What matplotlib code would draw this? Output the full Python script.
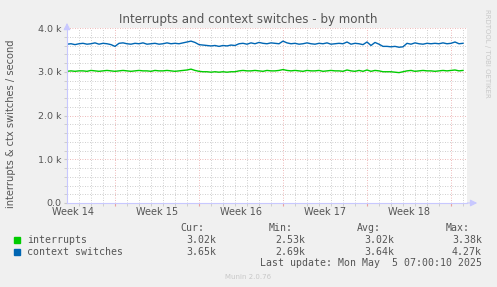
import numpy as np
import matplotlib
matplotlib.use("Agg")
import matplotlib.pyplot as plt
from matplotlib.ticker import MultipleLocator, FixedLocator, FuncFormatter

# samples every 8 hours, in k/s
hours = np.arange(100) * 8
interrupts = [3.01, 3.02, 3.01, 3.02, 3.02, 3.01, 3.03, 3.02, 3.01, 3.02, 3.03, 3.02, 3.01,
              3.02, 3.03, 3.02, 3.01, 3.02, 3.03, 3.02, 3.02, 3.01, 3.03, 3.02, 3.02, 3.03,
              3.02, 3.01, 3.02, 3.03, 3.04, 3.06, 3.03,
              3.01, 3.00, 3.00, 2.99, 3.00, 2.99, 3.00, 2.99, 3.00, 3.00,
              3.02, 3.03, 3.02, 3.02, 3.03, 3.02, 3.01, 3.03, 3.02, 3.02, 3.03,
              3.05, 3.03,
              3.02, 3.03, 3.02, 3.01, 3.03, 3.02, 3.02, 3.03, 3.01, 3.02, 3.03, 3.02, 3.02,
              3.01, 3.04, 3.02, 3.01, 3.03, 3.01,
              3.04, 3.01, 3.03, 3.02,
              3.00, 3.00, 3.00, 2.99, 2.98, 3.00,
              3.02, 3.03, 3.01, 3.02, 3.03, 3.02, 3.02, 3.01, 3.02, 3.03, 3.02, 3.03, 3.04,
              3.02, 3.03]
ctx_switches = [3.63, 3.64, 3.62, 3.64, 3.65, 3.63, 3.64, 3.66, 3.63, 3.65, 3.64, 3.62, 3.58,
                3.65, 3.66, 3.64, 3.63, 3.65, 3.64, 3.66, 3.63, 3.64, 3.65, 3.63, 3.64, 3.66,
                3.64, 3.65, 3.64, 3.66, 3.68, 3.70, 3.67,
                3.62, 3.61, 3.60, 3.59, 3.60, 3.58, 3.60, 3.59, 3.61, 3.60,
                3.64, 3.65, 3.63, 3.66, 3.64, 3.67, 3.65, 3.64, 3.66, 3.65, 3.64,
                3.70, 3.66,
                3.64, 3.65, 3.63, 3.64, 3.66, 3.64, 3.63, 3.65, 3.64, 3.66, 3.63, 3.64, 3.65,
                3.64, 3.68, 3.63, 3.65, 3.64, 3.62,
                3.68, 3.60, 3.67, 3.63,
                3.58, 3.58, 3.57, 3.58, 3.56, 3.57,
                3.65, 3.63, 3.66, 3.64, 3.63, 3.65, 3.64, 3.65, 3.64, 3.66, 3.64, 3.65, 3.68,
                3.64, 3.65]

week_labels = ["Week 14", "Week 15", "Week 16", "Week 17", "Week 18"]
week_ends = [96, 264, 432, 600, 768]   # hours, week boundaries
series_names = ["interrupts", "context switches"]
series_colors = ["#00CC00", "#0066B3"]
cur = ["3.02k", "3.65k"]
mins = ["2.53k", "2.69k"]
avgs = ["3.02k", "3.64k"]
maxs = ["3.38k", "4.27k"]

W, H = 497, 287
fig = plt.figure(figsize=(W / 100, H / 100), dpi=100, facecolor="#F0F0F0")
ax = fig.add_axes([67 / W, 84 / H, 400 / W, 175 / H])
ax.set_facecolor("white")

ax.plot(hours, interrupts, color=series_colors[0], lw=1.0)
ax.plot(hours, ctx_switches, color=series_colors[1], lw=1.0)

ax.set_xlim(0, 800)
ax.set_ylim(0, 4.0)

# grid: days minor grey, weeks / 1k major red
ax.xaxis.set_minor_locator(FixedLocator(np.arange(24, 800, 24)))
ax.xaxis.set_major_locator(FixedLocator(week_ends))
ax.yaxis.set_major_locator(MultipleLocator(1.0))
ax.yaxis.set_minor_locator(MultipleLocator(0.2))
ax.grid(which="minor", color="#BEBEBE", ls=(0, (1, 2)), lw=0.6)
ax.grid(which="major", color="#E8A0A0", ls=(0, (1, 2)), lw=0.6)
ax.set_axisbelow(True)
ax.set_xticklabels([])
ax.yaxis.set_major_formatter(FuncFormatter(lambda v, p: "%.1f k" % v if v > 0 else "0.0"))
ax.tick_params(axis="y", which="both", length=2, colors="#C8C8C8", labelcolor="#555555",
               labelsize=6.8, pad=2)
ax.tick_params(axis="x", which="both", length=2, colors="#E8A0A0")
ax.tick_params(axis="x", which="minor", colors="#C8C8C8")

for i, lab in enumerate(week_labels):
    ax.text(week_ends[i] - 84, -0.1, lab, ha="center", va="top", fontsize=7,
            color="#555555", transform=ax.transData, clip_on=False)

for s in ["top", "right"]:
    ax.spines[s].set_visible(False)
for s in ["left", "bottom"]:
    ax.spines[s].set_color("#C8C8FF")
    ax.spines[s].set_linewidth(0.8)

# axis arrows
ax.annotate("", xy=(0, 4.18), xytext=(0, 3.95), xycoords="data",
            arrowprops=dict(arrowstyle="-|>,head_width=0.2,head_length=0.4", color="#C8C8FF", lw=0.8),
            annotation_clip=False)
ax.annotate("", xy=(826, 0), xytext=(795, 0), xycoords="data",
            arrowprops=dict(arrowstyle="-|>,head_width=0.2,head_length=0.4", color="#C8C8FF", lw=0.8),
            annotation_clip=False)

def px(x, y):
    return x / W, 1 - y / H

fig.text(*px(248, 19), "Interrupts and context switches - by month", ha="center", va="center",
         fontsize=8.6, color="#555555")
fig.text(*px(11, 124), "interrupts & ctx switches / second", ha="center", va="center",
         rotation=90, fontsize=7.1, color="#555555")
fig.text(*px(487, 53), "RRDTOOL / TOBI OETIKER", ha="center", va="center", rotation=270,
         fontsize=5, color="#C8C8C8")

mono = dict(family="DejaVu Sans Mono", fontsize=7.1, color="#555555", va="center")
fig.text(*px(204, 228), "Cur:", ha="right", **mono)
fig.text(*px(293, 228), "Min:", ha="right", **mono)
fig.text(*px(381, 228), "Avg:", ha="right", **mono)
fig.text(*px(470, 228), "Max:", ha="right", **mono)
for i in range(2):
    y = 240 + 12 * i
    fig.patches.append(plt.Rectangle(px(14, y + 3), 6 / W, 6 / H, transform=fig.transFigure,
                                     color=series_colors[i], figure=fig))
    fig.text(*px(27, y), series_names[i], ha="left", **mono)
    fig.text(*px(216, y), cur[i], ha="right", **mono)
    fig.text(*px(305, y), mins[i], ha="right", **mono)
    fig.text(*px(394, y), avgs[i], ha="right", **mono)
    fig.text(*px(482, y), maxs[i], ha="right", **mono)
fig.text(*px(482, 263), "Last update: Mon May  5 07:00:10 2025", ha="right", **mono)
fig.text(*px(248, 277), "Munin 2.0.76", ha="center", va="center", fontsize=5, color="#C8C8C8")

fig.savefig("out.png", dpi=100, facecolor=fig.get_facecolor())
